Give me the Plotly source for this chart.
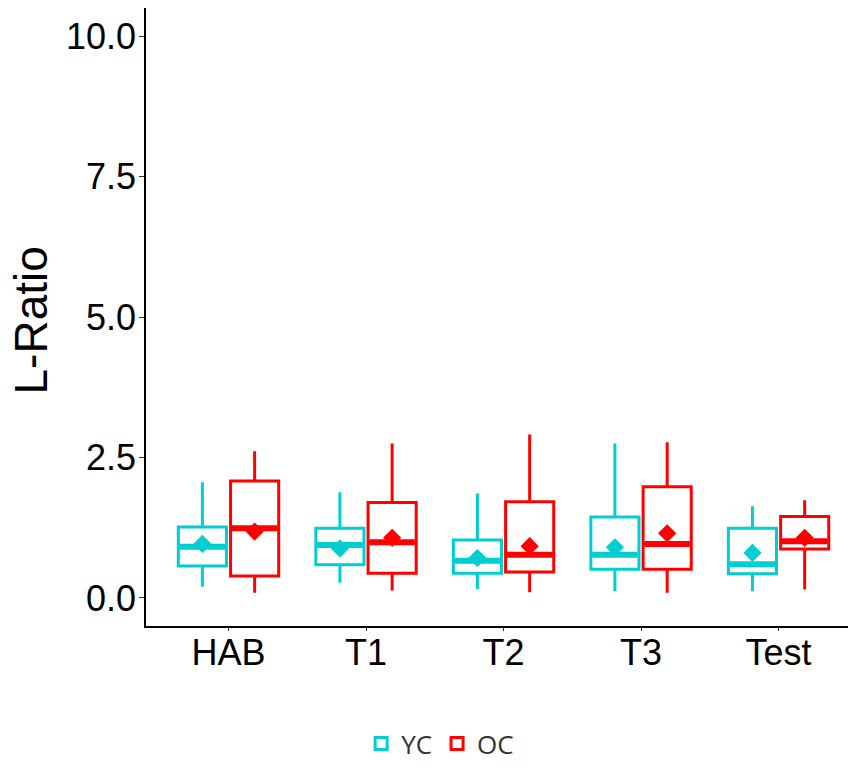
import plotly.graph_objects as go

categories = ["HAB", "T1", "T2", "T3", "Test"]
groups = ["YC", "OC"]

yc_lower = [0.20, 0.27, 0.16, 0.12, 0.12]
yc_q1 = [0.57, 0.59, 0.44, 0.51, 0.43]
yc_median = [0.91, 0.94, 0.66, 0.77, 0.60]
yc_q3 = [1.26, 1.24, 1.03, 1.44, 1.24]
yc_upper = [2.06, 1.88, 1.86, 2.75, 1.63]
yc_mean = [0.96, 0.88, 0.71, 0.90, 0.80]

oc_lower = [0.09, 0.13, 0.10, 0.09, 0.15]
oc_q1 = [0.39, 0.44, 0.46, 0.51, 0.87]
oc_median = [1.24, 0.99, 0.77, 0.96, 1.01]
oc_q3 = [2.08, 1.70, 1.71, 1.98, 1.45]
oc_upper = [2.61, 2.75, 2.91, 2.77, 1.74]
oc_mean = [1.18, 1.07, 0.92, 1.15, 1.07]

colors = {"YC": "#00CED1", "OC": "#FF0000"}
offsets = {"YC": -0.19, "OC": 0.19}
box_width = 0.35

data = {
    "YC": (yc_lower, yc_q1, yc_median, yc_q3, yc_upper, yc_mean),
    "OC": (oc_lower, oc_q1, oc_median, oc_q3, oc_upper, oc_mean),
}

fig = go.Figure()
cat_pos = list(range(1, len(categories) + 1))

for g in groups:
    lo, q1, med, q3, up, mean = data[g]
    xs = [p + offsets[g] for p in cat_pos]
    fig.add_trace(go.Box(
        name=g, x=xs, q1=q1, median=med, q3=q3, lowerfence=lo, upperfence=up,
        width=box_width, whiskerwidth=0, boxpoints=False,
        line=dict(color=colors[g], width=3), fillcolor="rgba(0,0,0,0)",
        showlegend=True, hoverinfo="skip",
    ))

for g in groups:
    lo, q1, med, q3, up, mean = data[g]
    xs = [p + offsets[g] for p in cat_pos]
    mx, my = [], []
    for x, m in zip(xs, med):
        mx += [x - box_width / 2 + 0.01, x + box_width / 2 - 0.01, None]
        my += [m, m, None]
    fig.add_trace(go.Scatter(x=mx, y=my, mode="lines",
                             line=dict(color=colors[g], width=6),
                             showlegend=False, hoverinfo="skip"))
    fig.add_trace(go.Scatter(x=xs, y=mean, mode="markers",
                             marker=dict(symbol="diamond", size=14, color=colors[g]),
                             showlegend=False, hoverinfo="skip"))

fig.update_layout(
    width=848, height=767,
    margin=dict(l=146, r=0, t=8, b=140),
    plot_bgcolor="white", paper_bgcolor="white",
    boxmode="overlay",
    font=dict(family="Liberation Sans, Arial, sans-serif", color="black"),
    xaxis=dict(
        range=[0.4, 5.505], tickvals=cat_pos, ticktext=categories,
        showline=True, linecolor="black", linewidth=1.6, mirror=False,
        ticks="outside", ticklen=3, tickcolor="#333333", tickwidth=1,
        showgrid=False, zeroline=False, ticklabelstandoff=-9,
        tickfont=dict(size=36, color="black", family="Liberation Sans, Arial, sans-serif"),
    ),
    yaxis=dict(
        range=[-0.5, 10.5], tickvals=[0, 2.5, 5, 7.5, 10], tickformat=".1f",
        showline=True, linecolor="black", linewidth=1.6,
        ticks="outside", ticklen=5, tickcolor="#333333", tickwidth=1,
        showgrid=False, zeroline=False, ticklabelstandoff=-4,
        tickfont=dict(size=36, color="black", family="Liberation Sans, Arial, sans-serif"),
    ),
    legend=dict(
        orientation="h", x=0.419, xanchor="center", y=-0.19, yanchor="middle",
        font=dict(size=26, color="#333333", family="Open Sans, sans-serif"),
        itemwidth=30, tracegroupgap=0,
    ),
    annotations=[dict(
        text="L-Ratio", textangle=-90, xref="paper", yref="paper",
        x=(31 - 146) / 702, y=(599 - 293) / 619, xanchor="center", yanchor="middle",
        showarrow=False, font=dict(size=46, color="black", family="Liberation Sans, Arial, sans-serif"),
    )],
)

fig.write_html("out.html")
